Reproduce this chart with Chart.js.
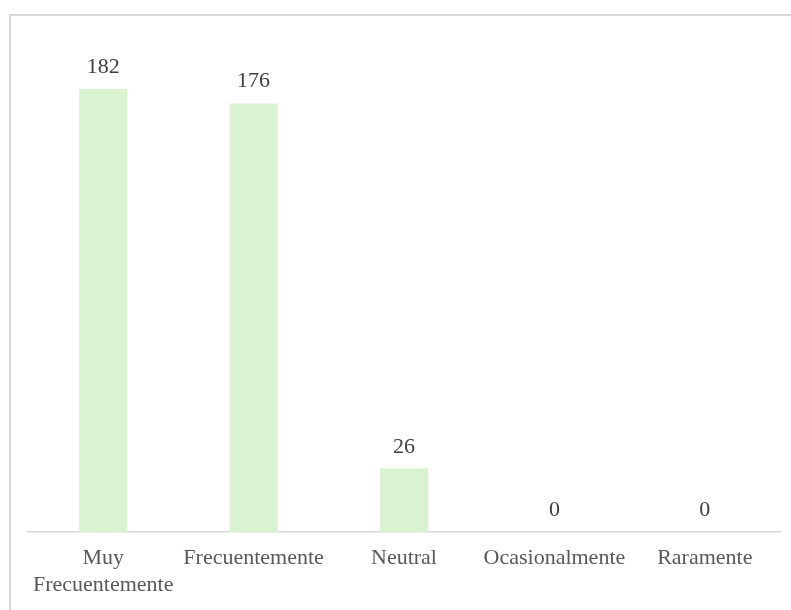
<!DOCTYPE html>
<html>
<head>
<meta charset="utf-8">
<script src="https://cdn.jsdelivr.net/npm/chart.js@4"></script>
<style>
  html, body { margin: 0; padding: 0; background: #fff; overflow: hidden; }
  #frame {
    position: absolute; left: 9px; top: 14px;
    width: 820px; height: 640px;
    border: 2px solid #d9d9d9; box-sizing: border-box;
  }
  #wrap { position: absolute; left: 0; top: 0; width: 791px; height: 624px; }
</style>
</head>
<body>
<div id="frame"></div>
<div id="wrap"><canvas id="chart"></canvas></div>
<script>
// Datos del gráfico
const categorias = [['Muy', 'Frecuentemente'], 'Frecuentemente', 'Neutral', 'Ocasionalmente', 'Raramente'];
const valores = [182, 176, 26, 0, 0];

const fuente = '"Liberation Serif", "Times New Roman", serif';

// Etiquetas de valor encima de cada barra
const etiquetasValor = {
  id: 'etiquetasValor',
  afterDatasetsDraw(chart) {
    const ctx = chart.ctx;
    const meta = chart.getDatasetMeta(0);
    ctx.save();
    ctx.font = '22px ' + fuente;
    ctx.fillStyle = '#404040';
    ctx.textAlign = 'center';
    ctx.textBaseline = 'alphabetic';
    meta.data.forEach((bar, i) => {
      ctx.fillText(String(valores[i]), bar.x, bar.y - 16);
    });
    ctx.restore();
  }
};

new Chart(document.getElementById('chart'), {
  type: 'bar',
  data: {
    labels: categorias,
    datasets: [{
      data: valores,
      backgroundColor: '#d9f2d0',
      borderWidth: 0,
      barPercentage: 0.32,
      categoryPercentage: 1
    }]
  },
  options: {
    responsive: true,
    maintainAspectRatio: false,
    animation: false,
    layout: { padding: { left: 28, right: 11, top: 45, bottom: 12 } },
    plugins: {
      legend: { display: false },
      tooltip: { enabled: false }
    },
    scales: {
      y: {
        display: false,
        min: 0,
        max: 200
      },
      x: {
        grid: { display: false, drawTicks: false },
        border: { display: true, color: '#d9d9d9', width: 1.5 },
        ticks: {
          color: '#595959',
          font: { family: fuente, size: 22, lineHeight: 1.23 },
          padding: 13,
          maxRotation: 0,
          autoSkip: false
        }
      }
    }
  },
  plugins: [etiquetasValor]
});
</script>
</body>
</html>
